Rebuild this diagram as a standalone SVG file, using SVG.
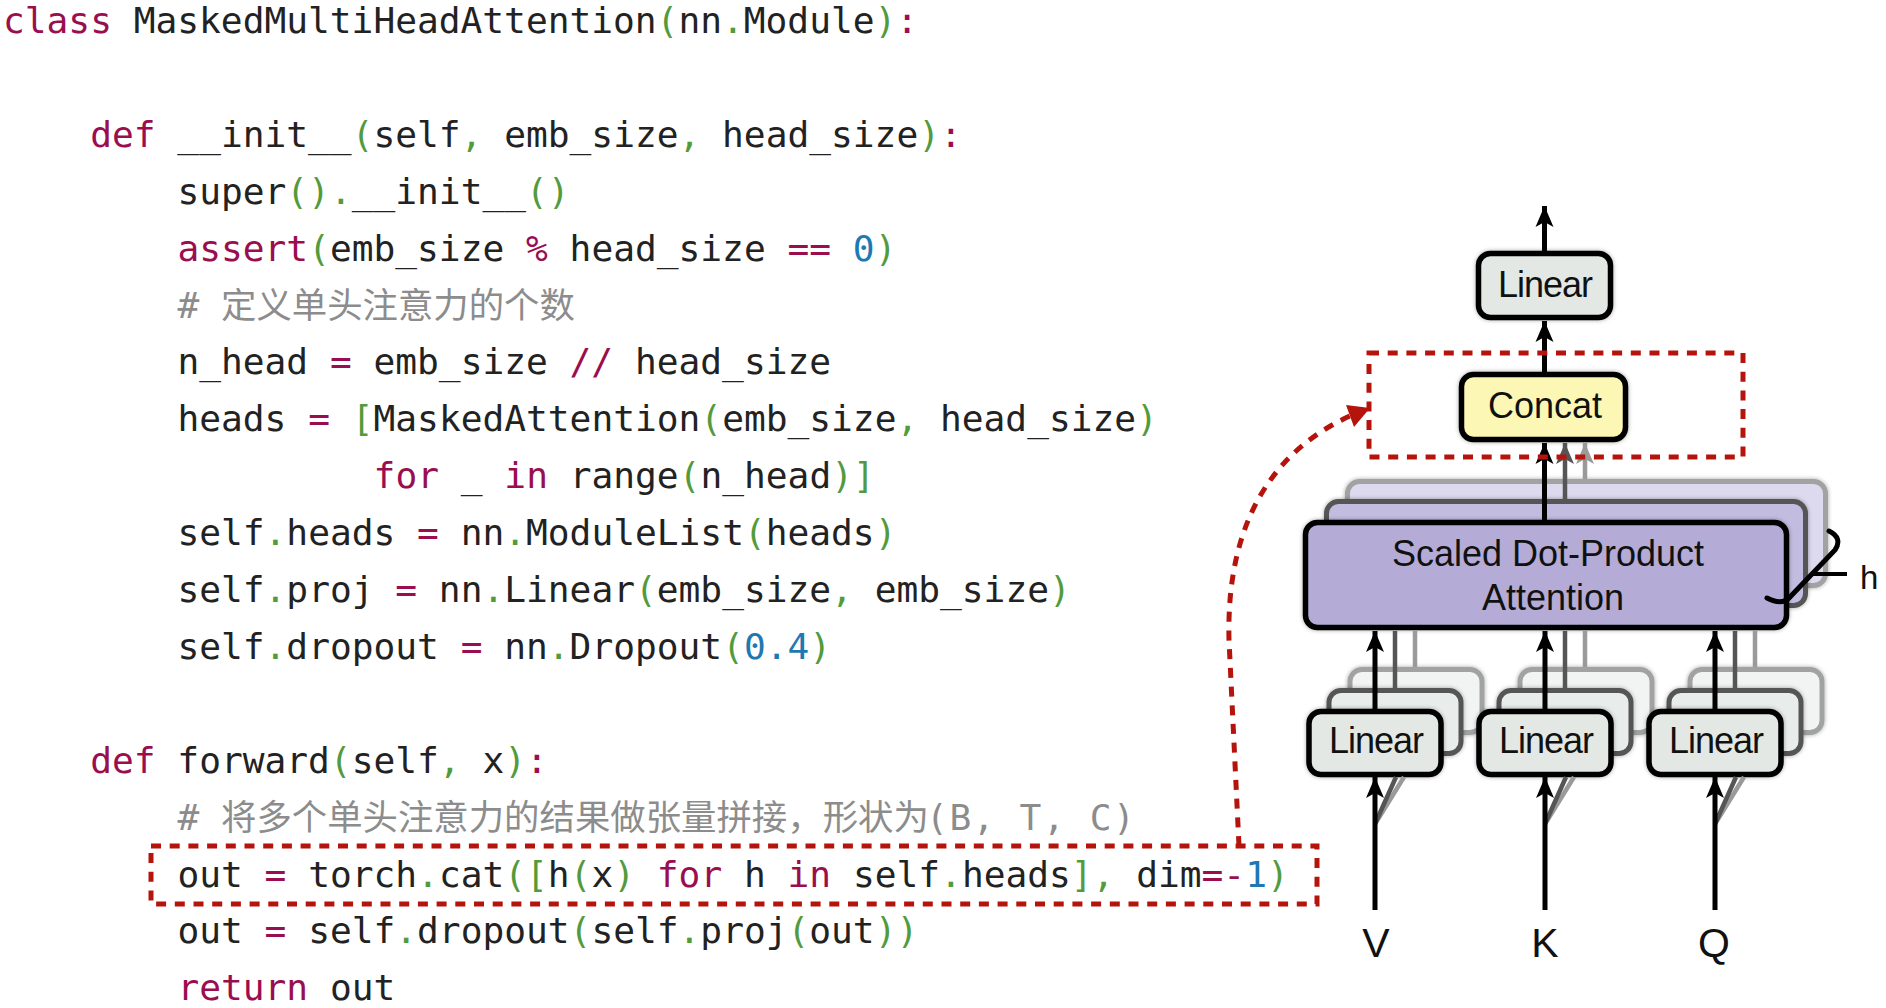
<svg xmlns="http://www.w3.org/2000/svg" width="1886" height="1008" viewBox="0 0 1886 1008">
<style>
.c{font-family:"DejaVu Sans Mono","Liberation Mono",monospace;font-size:36.2px;fill:#222}
.k{fill:#9a0e4f}.p{fill:#529b3d}.n{fill:#1e78b4}.cm{fill:#8c8c8c}
.cj{font-family:"Noto Sans CJK SC","Noto Sans CJK JP",sans-serif;font-size:35.4px}
.lbl{font-family:"Liberation Sans",Arial,sans-serif;font-size:36px;fill:#111;text-anchor:middle}
.io{font-family:"Liberation Sans",Arial,sans-serif;font-size:41px;fill:#111;text-anchor:middle}
.front{stroke:#000;stroke-width:5.5}
.mid{stroke:#555;stroke-width:5}
.back{stroke:#a2a2a2;stroke-width:5}
.lin{fill:#e3e8e5}.linm{fill:#e8ecea}.linb{fill:#f2f4f3}
.att{fill:#b4acd7}.attm{fill:#c3bce1}.attb{fill:#dddaef}
.ar{stroke:#000;stroke-width:5;fill:none}
.ag{stroke:#555;stroke-width:4.5;fill:none}
.al{stroke:#9a9a9a;stroke-width:4.5;fill:none}
.red{stroke:#b5140c;stroke-width:5;fill:none;stroke-dasharray:10 8.7}
</style>
<defs>
<filter id="sh" x="-10%" y="-20%" width="120%" height="140%"><feDropShadow dx="0" dy="0" stdDeviation="2" flood-color="#000" flood-opacity="0.35"/></filter>
<marker id="mb" markerUnits="userSpaceOnUse" viewBox="-22 -10 24 20" markerWidth="24" markerHeight="20" refX="0" refY="0" orient="auto"><path d="M0,0 L-21,-9 L-16,0 L-21,9 Z" fill="#000"/></marker>
<marker id="mg" markerUnits="userSpaceOnUse" viewBox="-22 -10 24 20" markerWidth="24" markerHeight="20" refX="0" refY="0" orient="auto"><path d="M0,0 L-21,-9 L-16,0 L-21,9 Z" fill="#555"/></marker>
<marker id="ml" markerUnits="userSpaceOnUse" viewBox="-22 -10 24 20" markerWidth="24" markerHeight="20" refX="0" refY="0" orient="auto"><path d="M0,0 L-21,-9 L-16,0 L-21,9 Z" fill="#9a9a9a"/></marker>
</defs>
<rect width="1886" height="1008" fill="#fff"/>

<g id="code" xml:space="preserve">
<text class="c" x="3" y="33"><tspan class="k">class</tspan> MaskedMultiHeadAttention<tspan class="p">(</tspan>nn<tspan class="p">.</tspan>Module<tspan class="p">)</tspan><tspan class="k">:</tspan></text>
<text class="c" x="90.2" y="146.8"><tspan class="k">def</tspan> __init__<tspan class="p">(</tspan>self<tspan class="p">,</tspan> emb_size<tspan class="p">,</tspan> head_size<tspan class="p">)</tspan><tspan class="k">:</tspan></text>
<text class="c" x="177.4" y="203.7">super<tspan class="p">()</tspan><tspan class="p">.</tspan>__init__<tspan class="p">()</tspan></text>
<text class="c" x="177.4" y="260.6"><tspan class="k">assert</tspan><tspan class="p">(</tspan>emb_size <tspan class="k">%</tspan> head_size <tspan class="k">==</tspan> <tspan class="n">0</tspan><tspan class="p">)</tspan></text>
<text class="c cm" x="177.4" y="317.5">#<tspan class="cj" x="221">定义单头注意力的个数</tspan></text>
<text class="c" x="177.4" y="374.4">n_head <tspan class="k">=</tspan> emb_size <tspan class="k">//</tspan> head_size</text>
<text class="c" x="177.4" y="431.3">heads <tspan class="k">=</tspan> <tspan class="p">[</tspan>MaskedAttention<tspan class="p">(</tspan>emb_size<tspan class="p">,</tspan> head_size<tspan class="p">)</tspan></text>
<text class="c" x="373.6" y="488.2"><tspan class="k">for</tspan> _ <tspan class="k">in</tspan> range<tspan class="p">(</tspan>n_head<tspan class="p">)]</tspan></text>
<text class="c" x="177.4" y="545.1">self<tspan class="p">.</tspan>heads <tspan class="k">=</tspan> nn<tspan class="p">.</tspan>ModuleList<tspan class="p">(</tspan>heads<tspan class="p">)</tspan></text>
<text class="c" x="177.4" y="602">self<tspan class="p">.</tspan>proj <tspan class="k">=</tspan> nn<tspan class="p">.</tspan>Linear<tspan class="p">(</tspan>emb_size<tspan class="p">,</tspan> emb_size<tspan class="p">)</tspan></text>
<text class="c" x="177.4" y="658.9">self<tspan class="p">.</tspan>dropout <tspan class="k">=</tspan> nn<tspan class="p">.</tspan>Dropout<tspan class="p">(</tspan><tspan class="n">0.4</tspan><tspan class="p">)</tspan></text>
<text class="c" x="90.2" y="772.7"><tspan class="k">def</tspan> forward<tspan class="p">(</tspan>self<tspan class="p">,</tspan> x<tspan class="p">)</tspan><tspan class="k">:</tspan></text>
<text class="c cm" x="177.4" y="829.6">#<tspan class="cj" x="221">将多个单头注意力的结果做张量拼接，形状为</tspan><tspan x="926" letter-spacing="1.6">(B, T, C)</tspan></text>
<text class="c" x="177.4" y="886.5">out <tspan class="k">=</tspan> torch<tspan class="p">.</tspan>cat<tspan class="p">([</tspan>h<tspan class="p">(</tspan>x<tspan class="p">)</tspan> <tspan class="k">for</tspan> h <tspan class="k">in</tspan> self<tspan class="p">.</tspan>heads<tspan class="p">],</tspan> dim<tspan class="k">=-</tspan><tspan class="n">1</tspan><tspan class="p">)</tspan></text>
<text class="c" x="177.4" y="943.4">out <tspan class="k">=</tspan> self<tspan class="p">.</tspan>dropout<tspan class="p">(</tspan>self<tspan class="p">.</tspan>proj<tspan class="p">(</tspan>out<tspan class="p">))</tspan></text>
<text class="c" x="177.4" y="1000.3"><tspan class="k">return</tspan> out</text>
</g>

<g id="node-linear-out">
<rect class="front lin" x="1478.5" y="253.5" width="132" height="64" rx="12" filter="url(#sh)"/>
<text class="lbl" x="1545" y="297" letter-spacing="-1">Linear</text>
</g>

<g id="node-concat">
<rect class="front" x="1461.5" y="374.5" width="164" height="65" rx="12" fill="#fcf7b5" filter="url(#sh)"/>
<text class="lbl" x="1545" y="418">Concat</text>
</g>

<g id="node-attention">
<rect class="back attb" x="1347.5" y="481.5" width="478" height="104" rx="12" filter="url(#sh)"/>
<rect class="mid attm" x="1326.5" y="501.5" width="479" height="104" rx="12" filter="url(#sh)"/>
<rect class="front att" x="1305.5" y="522.5" width="481" height="105" rx="12" filter="url(#sh)"/>
<text class="lbl" x="1548" y="566">Scaled Dot-Product</text>
<text class="lbl" x="1553" y="610">Attention</text>
</g>

<g id="node-linear-v">
<rect class="back linb" x="1350" y="669.5" width="132" height="63" rx="12" filter="url(#sh)"/>
<rect class="mid linm" x="1329" y="690.5" width="132" height="63" rx="12" filter="url(#sh)"/>
<rect class="front lin" x="1309" y="711.5" width="132" height="63" rx="12" filter="url(#sh)"/>
<text class="lbl" x="1376" y="753" letter-spacing="-1">Linear</text>
</g>
<g id="node-linear-k">
<rect class="back linb" x="1520" y="669.5" width="132" height="63" rx="12" filter="url(#sh)"/>
<rect class="mid linm" x="1499" y="690.5" width="132" height="63" rx="12" filter="url(#sh)"/>
<rect class="front lin" x="1479" y="711.5" width="132" height="63" rx="12" filter="url(#sh)"/>
<text class="lbl" x="1546" y="753" letter-spacing="-1">Linear</text>
</g>
<g id="node-linear-q">
<rect class="back linb" x="1690" y="669.5" width="132" height="63" rx="12" filter="url(#sh)"/>
<rect class="mid linm" x="1669" y="690.5" width="132" height="63" rx="12" filter="url(#sh)"/>
<rect class="front lin" x="1649" y="711.5" width="132" height="63" rx="12" filter="url(#sh)"/>
<text class="lbl" x="1716" y="753" letter-spacing="-1">Linear</text>
</g>

<g id="connectors">
<line class="ar" x1="1544.5" y1="251" x2="1544.5" y2="206" marker-end="url(#mb)"/>
<line class="ar" x1="1544.5" y1="372" x2="1544.5" y2="321" marker-end="url(#mb)"/>
<line class="al" x1="1585" y1="479" x2="1585" y2="443" marker-end="url(#ml)"/>
<line class="ag" x1="1565" y1="499" x2="1565" y2="443" marker-end="url(#mg)"/>
<line class="ar" x1="1544.5" y1="520" x2="1544.5" y2="443" marker-end="url(#mb)"/>
<line class="al" x1="1415" y1="667" x2="1415" y2="631"/>
<line class="ag" x1="1395" y1="688" x2="1395" y2="631"/>
<line class="ar" x1="1375" y1="709" x2="1375" y2="631" marker-end="url(#mb)"/>
<line class="al" x1="1585" y1="667" x2="1585" y2="631"/>
<line class="ag" x1="1565" y1="688" x2="1565" y2="631"/>
<line class="ar" x1="1545" y1="709" x2="1545" y2="631" marker-end="url(#mb)"/>
<line class="al" x1="1755" y1="667" x2="1755" y2="631"/>
<line class="ag" x1="1735" y1="688" x2="1735" y2="631"/>
<line class="ar" x1="1715" y1="709" x2="1715" y2="631" marker-end="url(#mb)"/>
<path class="al" d="M1375,824 L1404,777 M1545,824 L1574,777 M1715,824 L1744,777"/>
<path class="ag" d="M1375,824 L1396,777 M1545,824 L1566,777 M1715,824 L1736,777"/>
<line class="ar" x1="1375" y1="910" x2="1375" y2="777" marker-end="url(#mb)"/>
<line class="ar" x1="1545" y1="910" x2="1545" y2="777" marker-end="url(#mb)"/>
<line class="ar" x1="1715" y1="910" x2="1715" y2="777" marker-end="url(#mb)"/>
</g>

<g id="brace-h">
<path d="M1829,531 Q1843,538 1835,550 L1790,597 Q1782,606 1767,598" fill="none" stroke="#000" stroke-width="5" stroke-linecap="round"/>
<line x1="1813" y1="574" x2="1847" y2="574" stroke="#000" stroke-width="4"/>
<text x="1860" y="589" font-family="Liberation Sans, Arial, sans-serif" font-size="33" fill="#111">h</text>
</g>

<g id="labels">
<text class="io" x="1376" y="957">V</text>
<text class="io" x="1545" y="957">K</text>
<text class="io" x="1714" y="957">Q</text>
</g>

<g id="highlight">
<rect class="red" x="151" y="846" width="1166" height="58"/>
<rect class="red" x="1369" y="353" width="374" height="104"/>
<path class="red" d="M1239,846 L1229,640 C1226,520 1275,450 1350,416"/>
<polygon points="1370,408 1346,405 1354,427" fill="#b5140c"/>
</g>
</svg>
